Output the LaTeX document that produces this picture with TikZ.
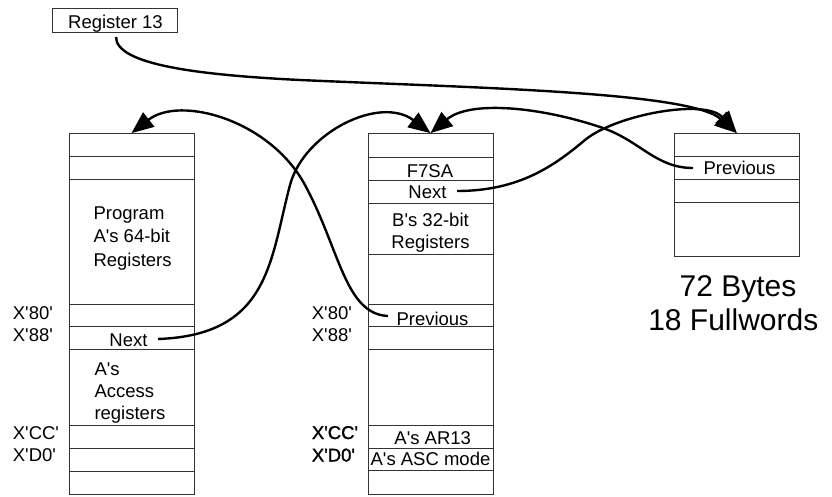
\documentclass[tikz,border=0pt]{standalone}
\usepackage{fontspec}
\setmainfont{Liberation Sans}
\newfontfamily\semibfont[FakeBold=1.3]{Liberation Sans}
\usetikzlibrary{arrows.meta}
\newcommand{\myq}{\textquotesingle}
\begin{document}
\begin{tikzpicture}[x=1pt,y=-1pt,
  colbox/.style={draw=black!80, line width=0.8pt, inner sep=0pt},
  rowline/.style={draw=black!80, line width=0.8pt},
  txt/.style={inner sep=0pt, font=\fontsize{18.5}{23}\selectfont},
  semitxt/.style={inner sep=0pt, font=\fontsize{18.5}{23}\semibfont},
  bigtxt/.style={inner sep=0pt, font=\fontsize{30}{34}\selectfont},
  conn/.style={line width=2.4pt, -{Triangle[length=22pt,width=18pt]}}]
\useasboundingbox (0,0) rectangle (832,496);

% Register 13
\node[colbox, minimum width=124.3pt, minimum height=23.6pt] (reg13) at (114.85,20.5) {};
\node[txt, anchor=base] (reg13t) at (115.5,28.3) {Register 13};

% columns
\node[colbox, minimum width=125pt, minimum height=361pt] (colA) at (131.5,314) {};
\node[colbox, minimum width=125pt, minimum height=361pt] (colB) at (430.5,314) {};
\node[colbox, minimum width=125pt, minimum height=122.5pt] (colC) at (736.8,194.75) {};

\foreach \yy in {156,179,304,326,349,425,448,471}
  \draw[rowline] (69,\yy) -- (194,\yy);
\foreach \yy in {157,180.5,203,254,304,326,349,425,448,470.5}
  \draw[rowline] (368,\yy) -- (493,\yy);
\foreach \yy in {156.7,179.3,202.3}
  \draw[rowline] (674.3,\yy) -- (799.3,\yy);

% left column texts
\node[txt, anchor=base west] (progA1) at (93.3,219.3) {Program};
\node[txt, anchor=base west] (progA2) at (93.3,242.7) {A\myq s 64-bit};
\node[txt, anchor=base west] (progA3) at (93.3,266) {Registers};
\node[txt, anchor=base] (nextA) at (128.5,346) {Next};
\node[txt, anchor=base west] (accA1) at (94.3,375) {A\myq s};
\node[txt, anchor=base west] (accA2) at (94.3,397.5) {Access};
\node[txt, anchor=base west] (accA3) at (94.3,419.5) {registers};

\node[txt, anchor=base west] (lA80) at (12.7,319) {X\myq 80\myq};
\node[txt, anchor=base west] (lA88) at (12.7,341.3) {X\myq 88\myq};
\node[txt, anchor=base west] (lACC) at (12.7,439) {X\myq CC\myq};
\node[txt, anchor=base west] (lAD0) at (12.7,461.5) {X\myq D0\myq};

% middle column texts
\node[txt, anchor=base] (f7sa) at (430,177.3) {F7SA};
\node[txt, anchor=base] (nextB) at (427.5,198.5) {Next};
\node[txt, anchor=base] (bregs1) at (430.5,226) {B\myq s 32-bit};
\node[txt, anchor=base] (bregs2) at (430.5,248.5) {Registers};
\node[txt, anchor=base] (prevB) at (432.5,325) {Previous};
\node[txt, anchor=base] (ar13) at (432.7,444) {A\myq s AR13};
\node[txt, anchor=base] (ascm) at (430.5,465.7) {A\myq s ASC mode};

\node[txt, anchor=base west] (lB80) at (311.7,319) {X\myq 80\myq};
\node[txt, anchor=base west] (lB88) at (311.7,341.3) {X\myq 88\myq};
\node[semitxt, anchor=base west] (lBCC) at (311.7,439) {X\myq CC\myq};
\node[semitxt, anchor=base west] (lBD0) at (311.7,461.5) {X\myq D0\myq};

% right column texts
\node[txt, anchor=base] (prevC) at (739.5,174.3) {Previous};
\node[bigtxt, anchor=base] (bytes) at (738,296.7) {72 Bytes};
\node[bigtxt, anchor=base] (fullw) at (733.3,330.7) {18 Fullwords};

% connector ends
\coordinate (r13out) at (116,37);
\coordinate (nextAout) at (158,339);
\coordinate (prevBout) at (388,316);
\coordinate (nextBout) at (457,191);
\coordinate (prevCout) at (693,168);

% connectors
\draw[conn] (r13out) .. controls (116,65) and (200,75) .. (300,80)
  .. controls (480,88) and (690,92) .. (colC.north);
\draw[conn] (nextAout) .. controls (270,335) and (270,260) .. (290,185)
  .. controls (304,132.5) and (380,95) .. (colB.north);
\draw[conn] (prevBout) .. controls (345,314) and (340,250) .. (305,185)
  .. controls (270,120) and (180,95) .. (colA.north);
\draw[conn] (nextBout) .. controls (520,191) and (555,165) .. (585,140)
  .. controls (615,115) and (705,98) .. (colC.north);
\draw[conn] (prevCout) .. controls (655,168) and (640,140) .. (600,127)
  .. controls (540,107) and (470,100) .. (colB.north);
\end{tikzpicture}
\end{document}
